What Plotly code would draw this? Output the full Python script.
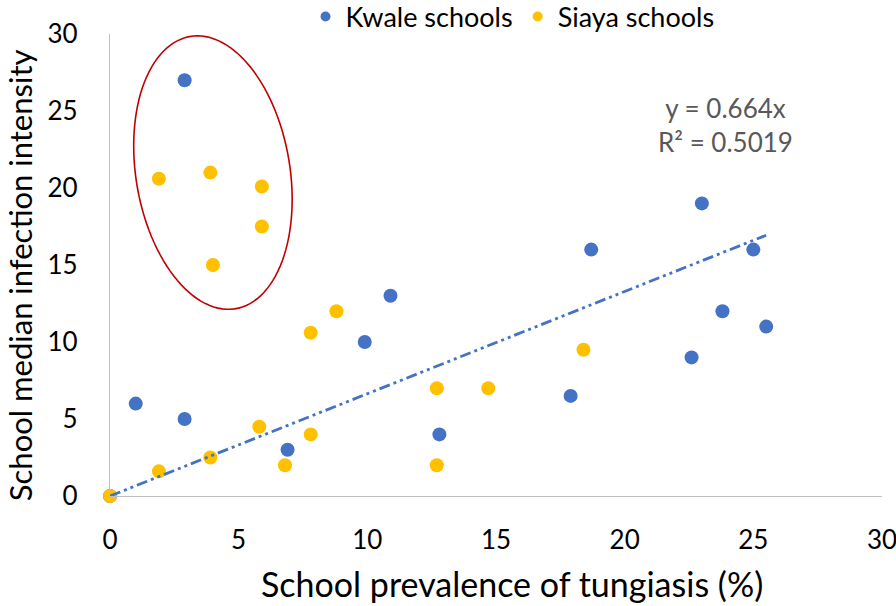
import numpy as np
import plotly.graph_objects as go

# Data
kwale_x = [0, 1, 2.9, 2.9, 6.9, 9.9, 10.9, 12.8, 17.9, 18.7, 22.6, 23.0, 23.8, 25.0, 25.5]
kwale_y = [0, 6, 27, 5, 3, 10, 13, 4, 6.5, 16, 9, 19, 12, 16, 11]

siaya_x = [0, 1.9, 3.9, 5.9, 5.9, 4.0, 1.9, 3.9, 5.8, 6.8, 7.8, 7.8, 8.8, 12.7, 12.7, 14.7, 18.4]
siaya_y = [0, 20.6, 21.0, 20.1, 17.5, 15.0, 1.6, 2.5, 4.5, 2.0, 4.0, 10.6, 12.0, 7.0, 2.0, 7.0, 9.5]

trend_slope = 0.664
trend_r2 = 0.5019
x_ticks = [0, 5, 10, 15, 20, 25, 30]
y_ticks = [0, 5, 10, 15, 20, 25, 30]
x_title = "School prevalence of tungiasis (%)"
y_title = "School median infection intensity"

FONT = "Lato"
BLUE = "#4472C4"
YELLOW = "#FFC000"

W, H = 896, 606
ML, MR, MT, MB = 110, 14, 34, 110
plot_w = W - ML - MR
plot_h = H - MT - MB
sx = plot_w / 30.0  # px per x unit
sy = plot_h / 30.0  # px per y unit

fig = go.Figure()

fig.add_trace(go.Scatter(
    x=kwale_x, y=kwale_y, mode="markers", name="Kwale schools", showlegend=False,
    marker=dict(color=BLUE, size=14, line=dict(width=0)), cliponaxis=False))
fig.add_trace(go.Scatter(
    x=siaya_x, y=siaya_y, mode="markers", name="Siaya schools", showlegend=False,
    marker=dict(color=YELLOW, size=14, line=dict(width=0)), cliponaxis=False))

# legend entries (smaller legend symbols, like the reference)
fig.add_trace(go.Scatter(x=[None], y=[None], mode="markers", name="Kwale schools",
                         marker=dict(color=BLUE, size=10)))
fig.add_trace(go.Scatter(x=[None], y=[None], mode="markers", name="Siaya schools",
                         marker=dict(color=YELLOW, size=10)))

x_max = max(kwale_x + siaya_x)
tx = [0, x_max]
ty = [trend_slope * v for v in tx]
fig.add_trace(go.Scatter(
    x=tx, y=ty, mode="lines", showlegend=False, hoverinfo="skip",
    line=dict(color=BLUE, width=2.8, dash="11px,4px,3px,4px,3px,4px")))

# Tilted ellipse highlighting the cluster (defined in pixel space, converted to data)
cx, cy = 4.0, 21.0
a_px, b_px = 138.0, 77.0
tilt = np.deg2rad(9.4)
t = np.linspace(0, 2 * np.pi, 120)
ux = b_px * np.cos(t)
uy = a_px * np.sin(t)
px = ux * np.cos(tilt) - uy * np.sin(tilt)
py = ux * np.sin(tilt) + uy * np.cos(tilt)
ex = cx + px / sx
ey = cy + py / sy
path = "M " + " L ".join(f"{a:.4f},{b:.4f}" for a, b in zip(ex, ey)) + " Z"
fig.add_shape(type="path", path=path, xref="x", yref="y",
              line=dict(color="#C00000", width=1.6), fillcolor="rgba(0,0,0,0)")

fig.add_annotation(
    x=23.9, y=24.1, xref="x", yref="y", showarrow=False,
    text=f"y = {trend_slope}x<br>R² = {trend_r2}",
    font=dict(family=FONT, size=26, color="#595959"), align="center")

# axis titles (placed like the reference, slightly off-centre)
fig.add_annotation(
    x=0.5207, y=0, xref="paper", yref="paper", yshift=-87, showarrow=False,
    xanchor="center", yanchor="middle", text=x_title,
    font=dict(family=FONT, size=34, color="#000000"))
fig.add_annotation(
    x=0, y=0.478, xref="paper", yref="paper", xshift=-90, showarrow=False,
    xanchor="center", yanchor="middle", textangle=-90, text=y_title,
    font=dict(family=FONT, size=31, color="#000000"))

fig.update_layout(
    width=W, height=H,
    margin=dict(l=ML, r=MR, t=MT, b=MB, autoexpand=False),
    paper_bgcolor="white", plot_bgcolor="white",
    font=dict(family=FONT, color="#000000"),
    legend=dict(orientation="h", x=0.572, xanchor="center", y=0.972, yanchor="middle",
                yref="container", xref="container", valign="middle",
                font=dict(family=FONT, size=27, color="#000000"),
                tracegroupgap=0, bgcolor="rgba(0,0,0,0)"),
    showlegend=True,
)

fig.update_xaxes(
    range=[0, 30], tickvals=x_ticks, ticktext=[str(v) for v in x_ticks],
    showgrid=False, zeroline=False, showline=True, linecolor="#BFBFBF", linewidth=1.3,
    ticks="", ticklabelstandoff=21, automargin=False, ticklabeloverflow="allow",
    tickfont=dict(family=FONT, size=26, color="#000000"))
fig.update_yaxes(
    range=[0, 30], tickvals=y_ticks, ticktext=[str(v) for v in y_ticks],
    showgrid=False, zeroline=False, showline=True, linecolor="#BFBFBF", linewidth=1.3,
    ticks="", ticklabelstandoff=26, automargin=False, ticklabeloverflow="allow",
    tickfont=dict(family=FONT, size=26, color="#000000"))

fig.write_html(
    "out.html",
    config={"displayModeBar": False},
    post_script="document.body.style.margin='0px';document.body.style.overflow='hidden';")
